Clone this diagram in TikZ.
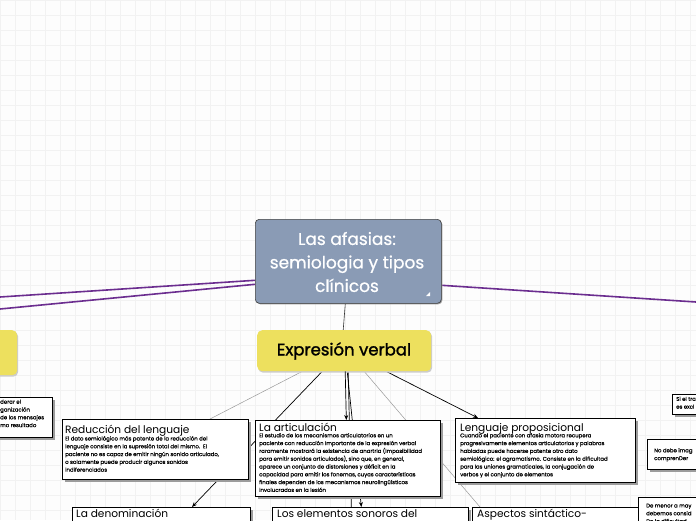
\documentclass[tikz,border=0pt]{standalone}
\usepackage{fontspec}
\setmainfont{Poppins}
\newfontfamily\evfont{Poppins}[FakeBold=1.6]
\newfontfamily\bodyfont{Poppins}[FakeBold=0.5]
\newfontfamily\cenfont{Poppins}[FakeBold=0.6]
\usetikzlibrary{shadows,arrows.meta}
\pgfdeclarelayer{gridlayer}
\pgfdeclarelayer{edgelayer}
\pgfsetlayers{gridlayer,edgelayer,main}
\definecolor{bgc}{HTML}{FDFDFD}
\definecolor{gridc}{HTML}{F2F2F2}
\definecolor{centralc}{HTML}{8A9BB5}
\definecolor{yelc}{HTML}{EDE05E}
\definecolor{purpc}{HTML}{6B2D8F}
\definecolor{shadc}{HTML}{9C9C9C}
\definecolor{thinc}{HTML}{9A9A9A}
\begin{document}
\begin{tikzpicture}[x=1pt,y=-1pt,
  card/.style={draw=black, line width=0.7pt, fill=white, rectangle, anchor=north west, inner sep=0pt,
    drop shadow={shadow xshift=2.5pt, shadow yshift=-2.5pt, fill=shadc, opacity=1}},
  ttl/.style={anchor=base west, inner sep=0pt, font=\fontsize{10.6}{12}\selectfont},
  bodyt/.style={anchor=north west, inner sep=0pt, align=left, font=\bodyfont\fontsize{5.4}{7.8}\selectfont},
  purpline/.style={draw=purpc, line width=1.6pt},
  thinline/.style={draw=thinc, line width=0.5pt},
  blackline/.style={draw=black, line width=0.7pt},
  arr/.style={-{Stealth[length=5pt,width=4pt]}}
]
\useasboundingbox (0,0) rectangle (696,520);
\clip (0,0) rectangle (696,520);
\begin{pgfonlayer}{gridlayer}
\fill[bgc] (0,0) rectangle (696,520);
\foreach \i in {0,15,...,690} \draw[gridc, line width=0.4pt] (\i,0) -- (\i,520);
\foreach \j in {0,15,...,515} \draw[gridc, line width=0.4pt] (0,\j) -- (696,\j);
\end{pgfonlayer}

% off-canvas ends
\coordinate (L1) at (0,297);
\coordinate (L2) at (0,309);
\coordinate (R1) at (696,302);

% central node
\node[draw=black!75, line width=0.6pt, fill=centralc, rounded corners=4pt, minimum width=186pt, minimum height=84pt,
  anchor=north west, inner sep=0pt, drop shadow={shadow xshift=1pt, shadow yshift=-1pt, fill=shadc, opacity=1}] (cen) at (255,219) {};
\node[text=white, align=center, font=\cenfont\fontsize{17}{23.5}\selectfont, inner sep=0pt] (centxt) at (347,262) {Las afasias:\\semiologia y tipos\\clínicos};
\fill[white] (430,292) -- (430,296) -- (426,296) -- cycle;

% Expresion verbal
\node[fill=yelc, rounded corners=5pt, minimum width=174pt, minimum height=41pt, anchor=north west, inner sep=0pt,
  drop shadow={shadow xshift=1pt, shadow yshift=-1.5pt, fill=black!20, opacity=1}] (ev) at (257,330) {};
\node[font=\evfont\fontsize{16.5}{20}\selectfont, inner sep=0pt] (evtxt) at (344,351) {Expresión verbal};

% left partial yellow node
\node[fill=yelc, rounded corners=5pt, minimum width=80pt, minimum height=45pt, anchor=north west, inner sep=0pt,
  drop shadow={shadow xshift=1pt, shadow yshift=-1.5pt, fill=black!20, opacity=1}] (lefty) at (-63,330) {};

% left partial card
\node[card, minimum width=150pt, minimum height=40pt] (leftc) at (-98,397) {};
\node[bodyt] (leftct) at (0,399.5) {derar el\\ganización\\de los mensajes\\mo resultado};

% bottom cards
\node[card, minimum width=178pt, minimum height=40pt] (den) at (72,507) {};
\node[ttl] (dent) at (76,517) {La denominación};
\node[card, minimum width=196pt, minimum height=40pt] (elem) at (272,507) {};
\node[ttl] (elemt) at (277,517) {Los elementos sonoros del};
\node[card, minimum width=168pt, minimum height=40pt] (asp) at (472,507) {};
\node[ttl] (aspt) at (477,517) {Aspectos sintáctico-};

% middle cards
\node[card, minimum width=186pt, minimum height=60pt] (red) at (62,419) {};
\node[ttl] (redt) at (65,433) {Reducción del lenguaje};
\node[bodyt] (redb) at (65,436) {El dato semiológico más patente de la reducción del\\lenguaje consiste en la supresión total del mismo.\ \ El\\paciente no es capaz de emitir ningún sonido articulado,\\o solamente puede producir algunos sonidos\\indiferenciados};

\node[card, minimum width=185pt, minimum height=76pt] (art) at (255,420) {};
\node[ttl] (artt) at (259,431) {La articulación};
\node[bodyt] (artb) at (259,433) {El estudio de los mecanismos articulatorios en un\\paciente con reducción importante de la expresión verbal\\raramente mostrará la existencia de anartria (imposibilidad\\para emitir sonidos articulados), sino que, en general,\\aparece un conjunto de distorsiones y déficit en la\\capacidad para emitir los fonemas, cuyas características\\finales dependen de los mecanismos neurolingüísticos\\involucrados en la lesión};

\node[card, minimum width=180pt, minimum height=64pt] (lp) at (455,418) {};
\node[ttl] (lpt) at (460,431) {Lenguaje proposicional};
\node[bodyt] (lpb) at (460,433) {Cuando el paciente con afasia motora recupera\\progresivamente elementos articulatorios y palabras\\habladas puede hacerse patente otro dato\\semiológico: el agramatismo. Consiste en la dificultad\\para las uniones gramaticales, la conjugación de\\verbos y el conjunto de elementos};

% right partial cards
\node[card, minimum width=60pt, minimum height=20pt] (r1) at (672,394) {};
\node[bodyt] (r1t) at (676,396.5) {Si el tra\\es excl};
\node[card, minimum width=80pt, minimum height=30pt] (r2) at (647,439) {};
\node[bodyt] (r2t) at (654,448) {No debe imag\\comprenDer};
\node[card, minimum width=80pt, minimum height=40pt] (r3) at (638,497) {};
\node[bodyt] (r3t) at (646,503.5) {De menor a may\\debemos consid\\De la dificultad};

% connectors
\begin{pgfonlayer}{edgelayer}
\draw[purpline] ([yshift=-19pt]cen.west) -- (L1);
\draw[purpline] ([yshift=-23pt]cen.west) -- (L2);
\draw[purpline] ([yshift=-24pt]cen.east) -- (R1);
\draw[draw=black!80, line width=0.6pt] ([xshift=-3pt]cen.south) -- ([xshift=-1pt]ev.north);
\draw[thinline] ([xshift=-42pt]ev.south) -- ([xshift=148pt]red.north west);
\draw[blackline, arr] ([xshift=-22pt]ev.south) -- ([xshift=120pt]den.north west);
\draw[blackline, arr] ([xshift=3pt]ev.south) -- ([xshift=-9pt]elem.north);
\draw[blackline] ([xshift=4pt]ev.south) -- ([xshift=-19pt]elem.north);
\draw[thinline] ([xshift=20pt]ev.south) -- ([xshift=8pt]asp.north west);
\draw[blackline, arr] ([xshift=42pt]ev.south) -- ([xshift=23pt]lp.north west);
\end{pgfonlayer}
% arrow into La articulacion (visible above)
\draw[blackline, arr] ([xshift=1pt]ev.south) -- ([xshift=-1.5pt]art.north);
\end{tikzpicture}
\end{document}
